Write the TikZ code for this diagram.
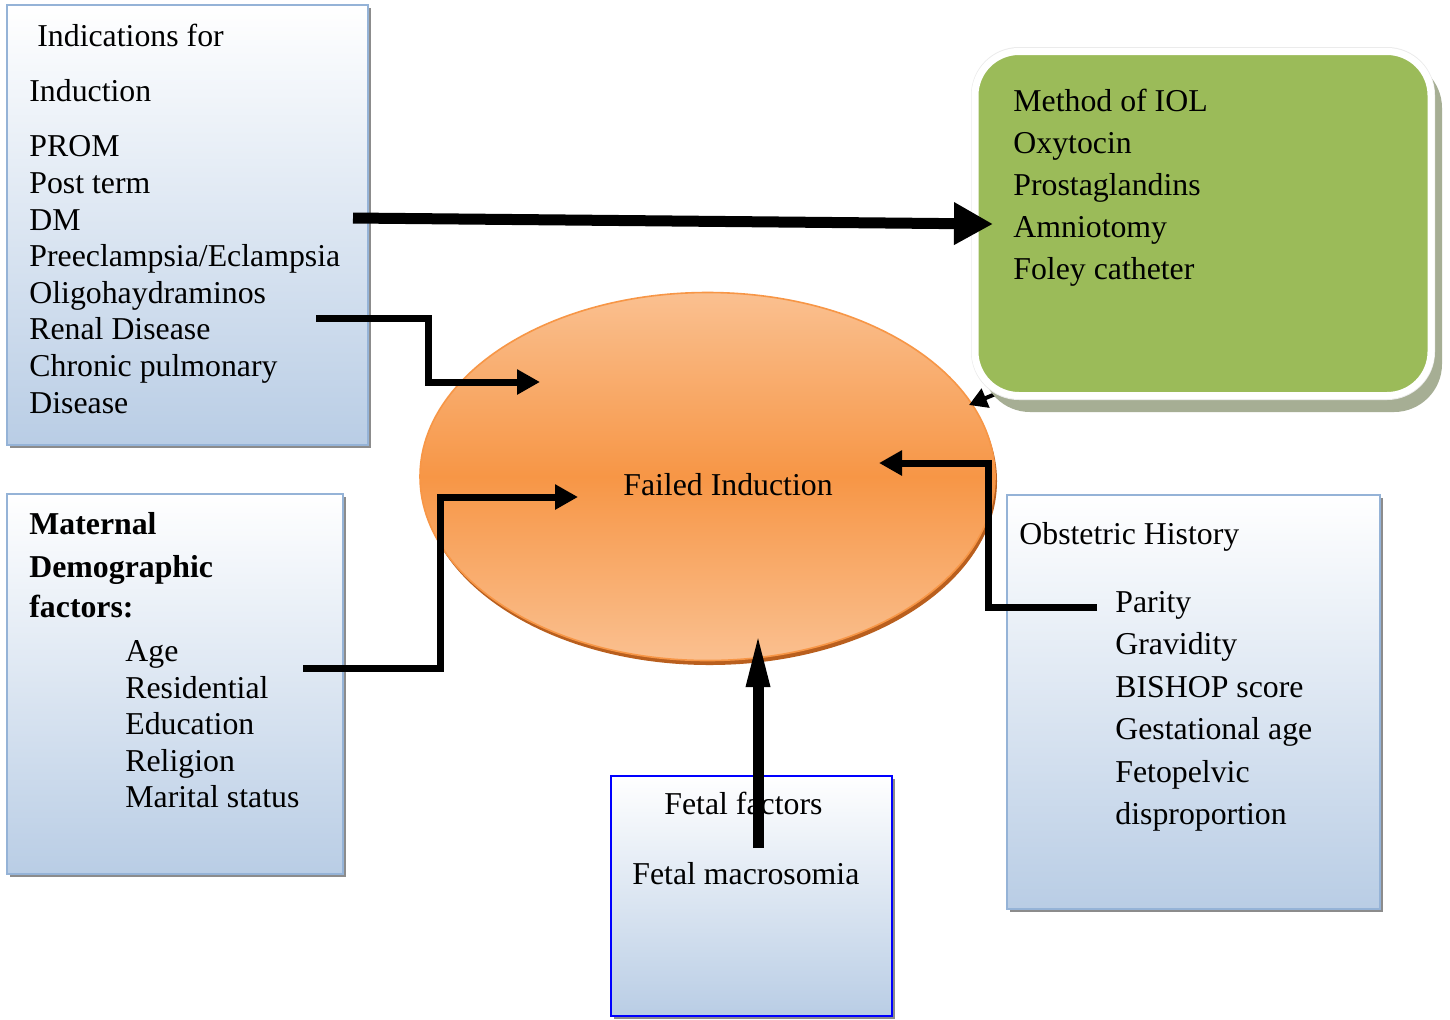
\documentclass[tikz,border=0pt]{standalone}
\usepackage{fontspec}
\setmainfont{Liberation Serif}
\usetikzlibrary{arrows.meta,shapes.geometric,shadows}
\definecolor{boxblue}{RGB}{185,205,229}
\definecolor{boxedge}{RGB}{149,179,215}
\definecolor{ellL}{RGB}{250,192,144}
\definecolor{ellD}{RGB}{247,150,70}
\definecolor{ellShadow}{RGB}{185,95,30}
\definecolor{iolgreen}{RGB}{155,187,89}
\definecolor{iolshadow}{RGB}{166,174,148}
\tikzset{
  txt/.style={font=\fontsize{15.9pt}{18.3pt}\selectfont, align=left, inner sep=0pt, anchor=north west},
  bluebox/.style={rectangle, draw=boxedge, line width=1pt, top color=white, bottom color=boxblue, inner sep=0pt,
    drop shadow={shadow xshift=1.5pt, shadow yshift=-1.5pt, fill=black!45, opacity=1}},
  fetbox/.style={bluebox, draw={rgb,255:red,0;green,0;blue,255}, line width=1.3pt},
  bigarrow/.style={line width=5.5pt, -{Triangle[length=19.5pt,width=20pt]}},
  elbow/.style={line width=3.5pt, miter limit=10, -{Triangle[length=11.5pt,width=12pt]}},
  fetarrow/.style={line width=5.5pt, -{Triangle[length=28.5pt,width=10.5pt]}},
  smallarrow/.style={line width=2pt, -{Triangle[length=9pt,width=10pt]}}
}
\begin{document}
\begin{tikzpicture}[x=0.5pt,y=-0.5pt]
\useasboundingbox (0,0) rectangle (1450,1019);
\fill[white] (0,0) rectangle (1450,1019);

% boxes
\node[bluebox, minimum width=180.5pt, minimum height=220pt] (ind) at (187.5,225) {};
\node[bluebox, minimum width=168pt, minimum height=190pt] (mat) at (175,684) {};
\node[fetbox, minimum width=140.5pt, minimum height=120pt] (fet) at (751.5,896) {};
\node[bluebox, minimum width=186.5pt, minimum height=207pt] (obs) at (1193.5,702) {};

% ellipse
\fill[ellShadow] (709.5,481) ellipse [x radius=143.75pt, y radius=92pt];
\node[ellipse, draw=ellD, line width=0.8pt, top color=ellL, bottom color=ellL, middle color=ellD,
  minimum width=287.5pt, minimum height=184pt, inner sep=0pt] (fail) at (707.5,476.5) {};
\node[font=\fontsize{15.9pt}{18.3pt}\selectfont, anchor=base, inner sep=0pt] (failtxt) at (728,495) {Failed Induction};

% small arrow from green box to ellipse
\coordinate (s1) at (1005,390);
\coordinate (s2) at (969,405);
\draw[smallarrow] (s1) -- (s2);

% green box
\fill[iolshadow, rounded corners=24pt] (982,60) rectangle (1442,412);
\path[fill=black!8, rounded corners=24pt] (971,47) rectangle (1435,400);
\node[rectangle, rounded corners=22pt, fill=iolgreen, draw=white, line width=3.5pt,
  minimum width=228pt, minimum height=172pt, inner sep=0pt] (iol) at (1203,223.5) {};

% texts
\node[txt] (indtxt) at (29,24) {\hspace*{4pt}Indications for\\[9.2pt]Induction\\[9.2pt]PROM\\Post term\\DM\\Preeclampsia/Eclampsia\\Oligohaydraminos\\Renal Disease\\Chronic pulmonary\\Disease};
\node[txt] (mattxt) at (29,512) {\textbf{Maternal}\\[3.2pt]\textbf{Demographic}\\[1.7pt]\textbf{factors:}\\[3.7pt]\hspace*{48pt}Age\\ \hspace*{48pt}Residential\\ \hspace*{48pt}Education\\ \hspace*{48pt}Religion\\ \hspace*{48pt}Marital status};
\node[txt] (fettxt) at (632,792) {\hspace*{16pt}Fetal factors\\[16.7pt]Fetal macrosomia};
\node[txt, font=\fontsize{15.9pt}{21.2pt}\selectfont] (obstxt) at (1019,522) {Obstetric History\\[12.8pt]\hspace*{48pt}Parity\\ \hspace*{48pt}Gravidity\\ \hspace*{48pt}BISHOP score\\ \hspace*{48pt}Gestational age\\ \hspace*{48pt}Fetopelvic\\ \hspace*{48pt}disproportion};
\node[txt, font=\fontsize{15.9pt}{21pt}\selectfont] (iortxt) at (1013,89) {Method of IOL\\Oxytocin\\Prostaglandins\\Amniotomy\\Foley catheter};

% connectors
\coordinate (b1) at (353,218);
\coordinate (b2) at (993,224);
\draw[bigarrow] (b1) -- (b2);

\coordinate (e1s) at (316,318);
\coordinate (e1t) at (540,382);
\draw[elbow] (e1s) -- (428,318) |- (e1t);

\coordinate (e2s) at (303,668);
\coordinate (e2t) at (578,497);
\draw[elbow] (e2s) -- (440,668) |- (e2t);

\coordinate (e3s) at (1097,607);
\coordinate (e3t) at (879,463);
\draw[elbow] (e3s) -- (988,607) |- (e3t);

\coordinate (f1) at (758,848);
\coordinate (f2) at (758,630);
\draw[fetarrow] (f1) -- (f2);
\end{tikzpicture}
\end{document}
